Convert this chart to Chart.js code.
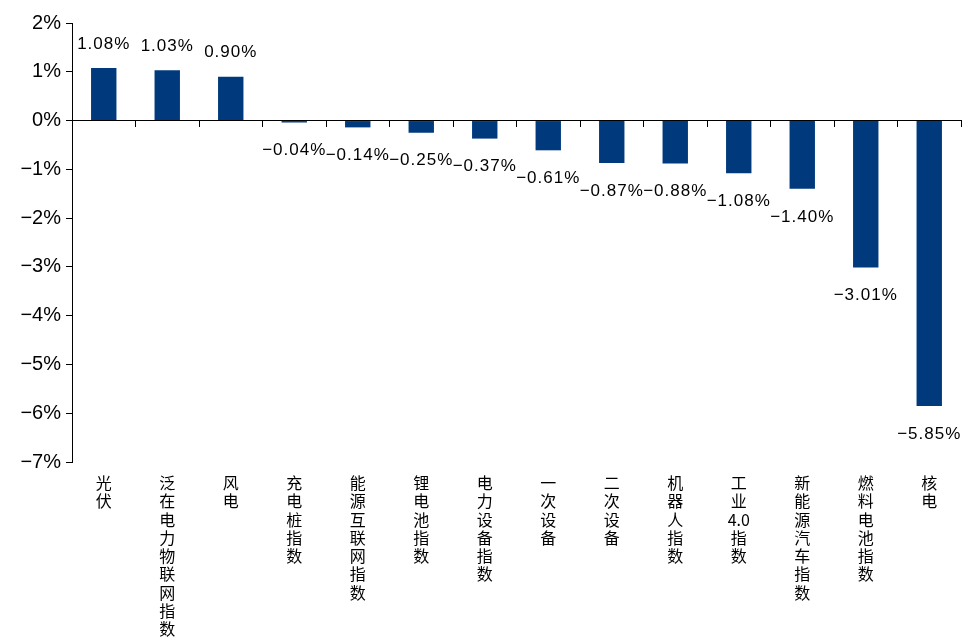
<!DOCTYPE html>
<html>
<head>
<meta charset="utf-8">
<script src="https://cdn.jsdelivr.net/npm/chart.js@4.4.1/dist/chart.umd.min.js"></script>
<style>
  html, body { margin: 0; padding: 0; background: #fff; }
</style>
</head>
<body>
<canvas id="indexChart" width="964" height="638"></canvas>
<script>
const categories = ['光伏', '泛在电力物联网指数', '风电', '充电桩指数', '能源互联网指数', '锂电池指数',
    '电力设备指数', '一次设备', '二次设备', '机器人指数', '工业4.0指数', '新能源汽车指数', '燃料电池指数', '核电'];
const changes = [1.08, 1.03, 0.90, -0.04, -0.14, -0.25, -0.37, -0.61, -0.87, -0.88, -1.08, -1.40, -3.01, -5.85];
const yTicks = [2, 1, 0, -1, -2, -3, -4, -5, -6, -7];

// split a label into vertical lines, keeping "4.0" together
const verticalLines = (label) => label.match(/[0-9.]+|./g);

const fmtPct = (v) => (v < 0 ? '\u2212' : '') + Math.abs(v).toFixed(2) + '%';

const valueLabels = {
    id: 'valueLabels',
    afterDatasetsDraw(chart) {
        const ctx = chart.ctx;
        const meta = chart.getDatasetMeta(0);
        ctx.save();
        ctx.font = '17px "Liberation Sans", Arial, sans-serif';
        ctx.letterSpacing = '1px';
        ctx.fillStyle = '#000';
        ctx.textAlign = 'center';
        ctx.textBaseline = 'middle';
        meta.data.forEach((bar, i) => {
            const v = changes[i];
            const y = v >= 0 ? bar.y - 24 : bar.y + 28;
            ctx.fillText(fmtPct(v), bar.x, y);
        });
        ctx.restore();
    }
};

new Chart(document.getElementById('indexChart'), {
    type: 'bar',
    data: {
        labels: categories,
        datasets: [{
            data: changes,
            backgroundColor: '#003a7d',
            barPercentage: 0.4,
            categoryPercentage: 1
        }]
    },
    options: {
        responsive: false,
        animation: false,
        layout: { padding: { top: 23, right: 3, left: 0, bottom: 0 } },
        plugins: { legend: { display: false }, tooltip: { enabled: false } },
        scales: {
            x: {
                position: 'bottom',
                grid: { display: false },
                border: { display: false },
                ticks: {
                    maxRotation: 0,
                    autoSkip: false,
                    padding: 4,
                    color: '#000',
                    font: { family: '"Noto Sans CJK SC", sans-serif', size: 16, lineHeight: 1.14 },
                    callback: (val, i) => verticalLines(categories[i])
                },
                afterFit: (scale) => { scale.height = 638 - 462; }
            },
            zero: {
                type: 'category',
                axis: 'x',
                position: { y: 0 },
                offset: true,
                grid: { drawOnChartArea: false, drawTicks: true, tickLength: 6, color: '#000', tickColor: '#000' },
                border: { display: true, color: '#000', width: 1 },
                ticks: { display: false }
            },
            y: {
                min: -7,
                max: 2,
                afterBuildTicks: (scale) => { scale.ticks = yTicks.map(v => ({ value: v })); },
                grid: { drawOnChartArea: false, drawTicks: true, tickLength: 6, color: '#000', tickColor: '#000' },
                border: { display: true, color: '#000', width: 1 },
                ticks: {
                    padding: 5,
                    color: '#000',
                    font: { family: '"Liberation Sans", Arial, sans-serif', size: 20 },
                    callback: (v) => (v < 0 ? '\u2212' : '') + Math.abs(v) + '%'
                },
                afterFit: (scale) => { scale.width = 72; }
            }
        }
    },
    plugins: [valueLabels]
});
</script>
</body>
</html>
